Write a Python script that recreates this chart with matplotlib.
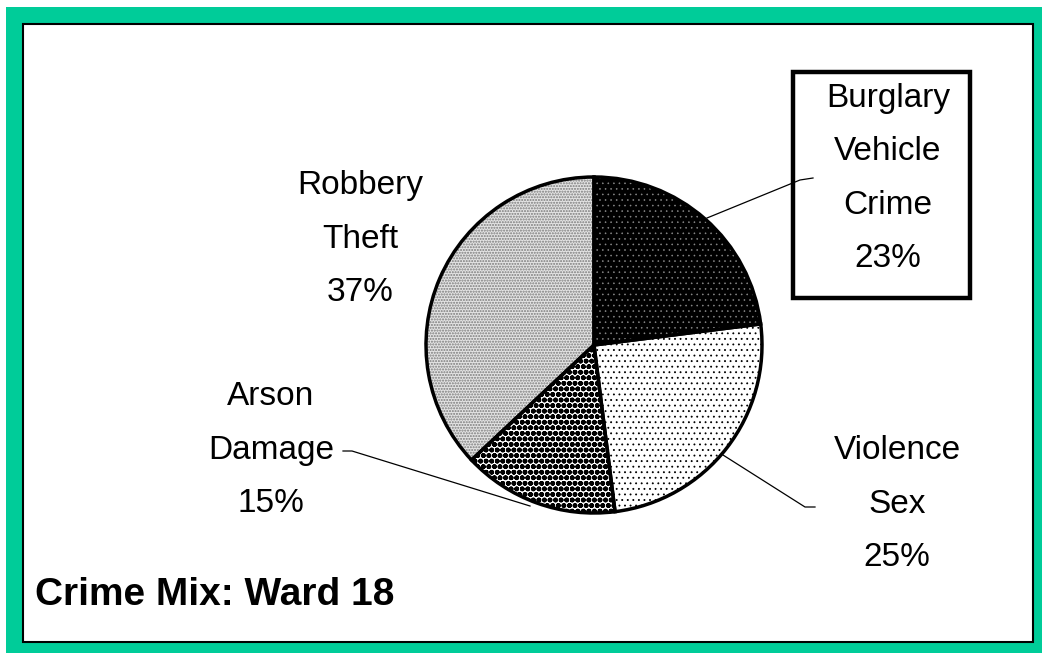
import matplotlib.pyplot as plt
from matplotlib.patches import Rectangle

# crime mix for ward 18, clockwise from 12 o'clock
categories = ['Burglary\nVehicle\nCrime', 'Violence\nSex', 'Arson\nDamage', 'Robbery\nTheft']
shares = [23, 25, 15, 37]
title = 'Crime Mix: Ward 18'

plt.rcParams['font.family'] = ['Liberation Sans', 'DejaVu Sans']
plt.rcParams['hatch.linewidth'] = 1.0

W, H = 1042, 653
fig = plt.figure(figsize=(W / 100, H / 100), dpi=100)

# background frame, pixel coordinates (y down)
bg = fig.add_axes([0, 0, 1, 1])
bg.set_xlim(0, W)
bg.set_ylim(H, 0)
bg.axis('off')
bg.add_patch(Rectangle((6, 7), W - 6, H - 7, facecolor='#00CC99', edgecolor='none'))
bg.add_patch(Rectangle((23, 24), 1010, 618, facecolor='white', edgecolor='black', lw=1.5))

# pie axes: centre (594, 345), radius 168 px
cx, cy, r = 594, 345, 168
pad = 1.05
ax = fig.add_axes([(cx - r * pad) / W, (H - cy - r * pad) / H, 2 * r * pad / W, 2 * r * pad / H])

fills = ['black', 'white', 'white', '#e4e4e4']
hatches = ['...', '...', 'ooo', '......']
hatch_colors = ['#8a8a8a', 'black', 'black', '#7a7a7a']
hatch_widths = [0.4, 0.6, 1.8, 1.0]
wedges, _ = ax.pie(shares, startangle=90, counterclock=False, colors=fills,
                   wedgeprops=dict(linewidth=0))
for w, h, c, hw in zip(wedges, hatches, hatch_colors, hatch_widths):
    w.set_hatch(h)
    w.set_edgecolor(c)
    if hasattr(w, 'set_hatch_linewidth'):
        w.set_hatch_linewidth(hw)
ax.pie(shares, startangle=90, counterclock=False, colors=['none'] * 4,
       wedgeprops=dict(linewidth=2.5, edgecolor='black'))
ax.set_xlim(-pad, pad)
ax.set_ylim(-pad, pad)
ax.axis('off')

labels = [f'{c}\n{s}%' for c, s in zip(categories, shares)]
# label anchors: x centre and baseline of the last line
label_pos = [(888, 267), (897, 566), (271, 512), (360, 301)]
for lab, (x, y) in zip(labels, label_pos):
    bg.text(x, y, lab, fontsize=24, ha='center', va='baseline',
            linespacing=1.93, multialignment='center')

# box round the burglary label
bg.add_patch(Rectangle((793, 72), 177, 226, facecolor='none', edgecolor='black', lw=3.2))

# leader lines
bg.plot([707, 800, 813], [218, 180, 178], color='black', lw=0.9)
bg.plot([723, 805, 815], [455, 507, 507], color='black', lw=0.9)
bg.plot([343, 352, 530], [451, 451, 506], color='black', lw=0.9)

bg.text(35, 605, title, fontsize=28, fontweight='bold', ha='left', va='baseline')

fig.savefig('out.png', dpi=100)
